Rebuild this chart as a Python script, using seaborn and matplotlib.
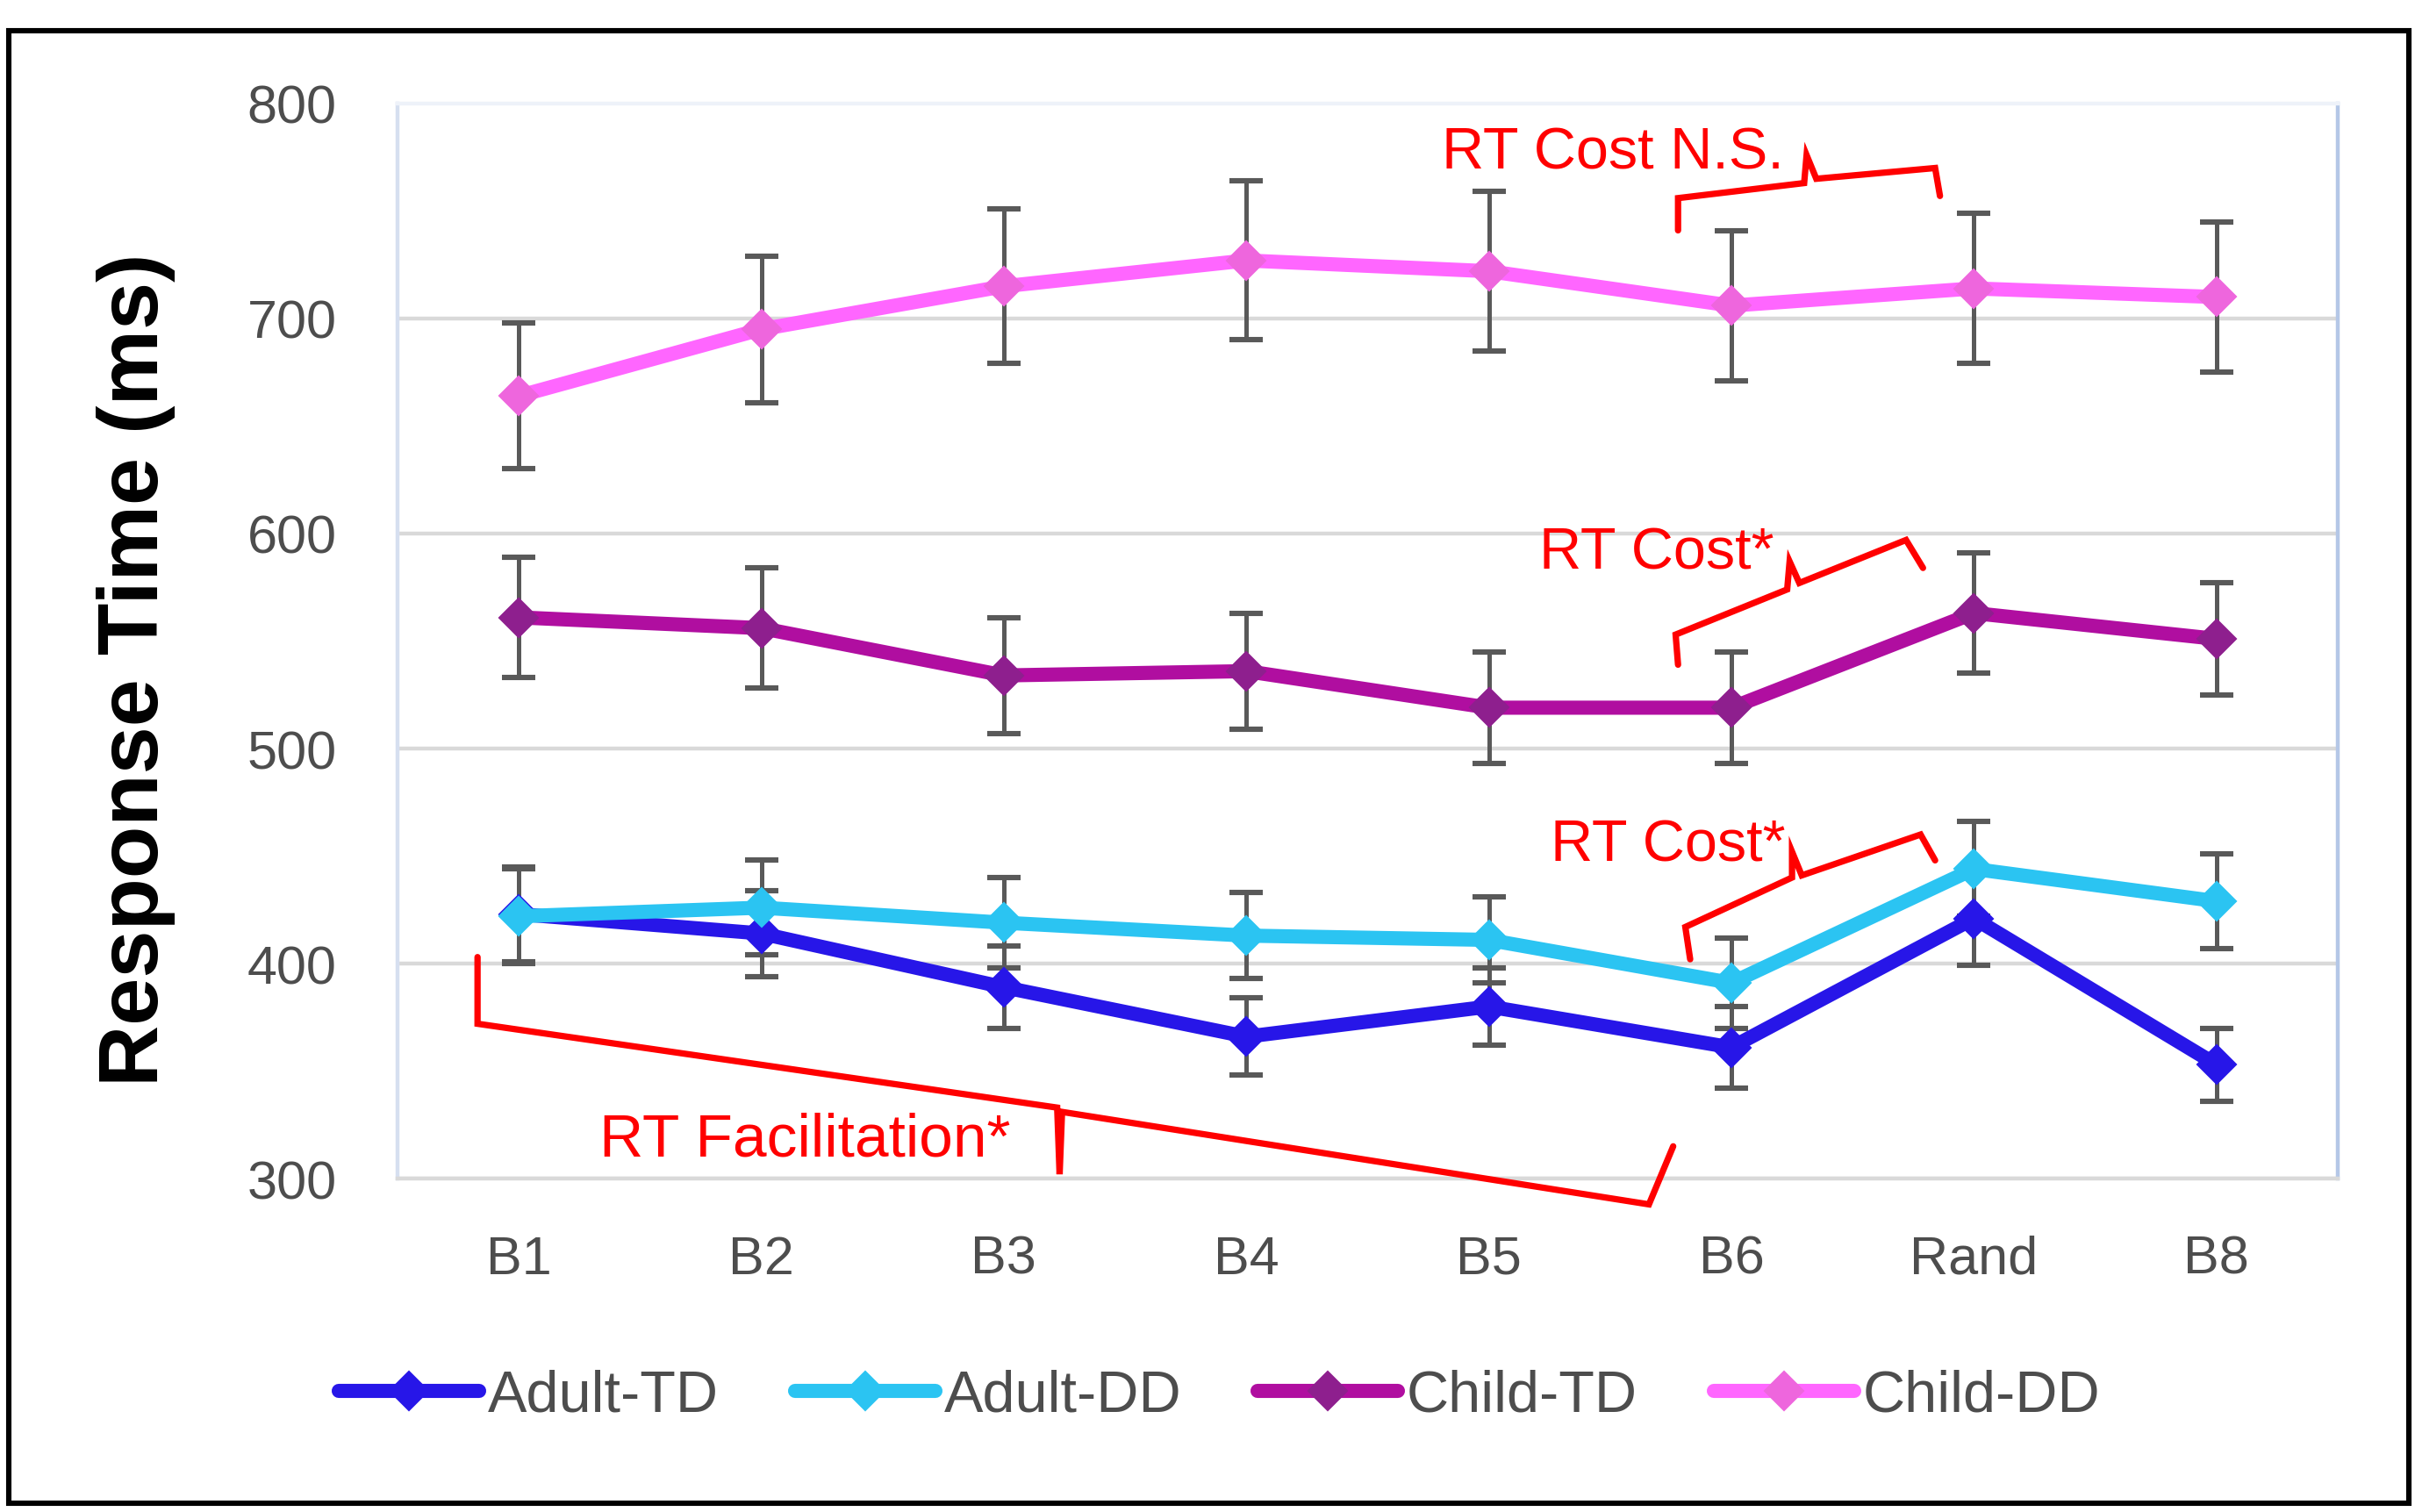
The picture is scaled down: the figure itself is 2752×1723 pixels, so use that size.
import numpy as np
import pandas as pd
import matplotlib.pyplot as plt
import seaborn as sns
from matplotlib.patches import Rectangle

sns.set_style('white')
plt.rcParams['font.family'] = ['Liberation Sans', 'DejaVu Sans']

blocks = ['B1', 'B2', 'B3', 'B4', 'B5', 'B6', 'Rand', 'B8']
groups = ['Adult-TD', 'Adult-DD', 'Child-TD', 'Child-DD']

adult_td = [423, 414, 389, 366, 380, 361, 421, 353]
adult_td_err = [22, 20, 19, 18, 18, 19, 22, 17]
adult_dd = [422, 426, 419, 413, 411, 391, 444, 429]
adult_dd_err = [22, 22, 21, 20, 20, 21, 22, 22]
child_td = [561, 556, 534, 536, 519, 519, 563, 551]
child_td_err = [28, 28, 27, 27, 26, 26, 28, 26]
child_dd = [664, 695, 715, 727, 722, 706, 714, 710]
child_dd_err = [34, 34, 36, 37, 37, 35, 35, 35]

line_colors = ['#2716E8', '#2BC4F2', '#B00EA0', '#FF66FF']
marker_colors = ['#2716E8', '#2BC4F2', '#8E1F8E', '#EE66DD']

# annotation brackets (x in block units, y in ms) and their labels
facil_bracket = [(-0.17, 403), (-0.17, 372), (2.22, 333), (2.23, 302), (2.24, 331), (4.66, 288), (4.76, 315)]
adult_cost_bracket = [(4.83, 402), (4.81, 417), (5.25, 440), (5.25, 452), (5.29, 441), (5.78, 460), (5.84, 448)]
child_cost_bracket = [(4.78, 539), (4.77, 553), (5.23, 574), (5.24, 587), (5.28, 577), (5.72, 597), (5.79, 584)]
ns_bracket = [(4.78, 741), (4.78, 756), (5.30, 763), (5.31, 776), (5.35, 765), (5.84, 770), (5.86, 757)]
annotations = [
    ('RT Facilitation*', 1.18, 318, facil_bracket),
    ('RT Cost*', 4.74, 455, adult_cost_bracket),
    ('RT Cost*', 4.69, 591, child_cost_bracket),
    ('RT Cost N.S.', 4.51, 777, ns_bracket),
]

series = [adult_td, adult_dd, child_td, child_dd]
errors = [adult_td_err, adult_dd_err, child_td_err, child_dd_err]

rows = []
for g, vals, errs in zip(groups, series, errors):
    for i, (b, v, e) in enumerate(zip(blocks, vals, errs)):
        rows.append({'group': g, 'block': b, 'pos': i, 'rt': v, 'se': e})
df = pd.DataFrame(rows)

fig = plt.figure(figsize=(13.76, 8.62), dpi=200)
ax = fig.add_axes([0.1646, 0.2204, 0.8034, 0.7106])

for k, g in enumerate(groups):
    sub = df[df['group'] == g]
    ax.errorbar(sub['pos'], sub['rt'], yerr=sub['se'], fmt='none', ecolor='#595959',
                elinewidth=1.8, capsize=7, capthick=2.2, zorder=2)
for k, g in enumerate(groups):
    sub = df[df['group'] == g]
    sns.lineplot(data=sub, x='pos', y='rt', ax=ax, color=line_colors[k], lw=5.8,
                 marker='D', markersize=11, markerfacecolor=marker_colors[k],
                 markeredgecolor=marker_colors[k], label=g, zorder=3 + k)

for text, tx, ty, pts in annotations:
    bx, by = zip(*pts)
    ax.plot(bx, by, color='#FF0000', lw=2.6, clip_on=False, zorder=10,
            solid_joinstyle='miter')
    fs = 25 if 'Facilitation' in text else 24
    ax.text(tx, ty, text, color='#FF0000', fontsize=fs, ha='center', va='center', zorder=11)

ax.set_xlim(-0.5, len(blocks) - 0.5)
ax.set_ylim(300, 800)
ax.set_xticks(range(len(blocks)))
ax.set_xticklabels(blocks)
ax.set_yticks(range(300, 801, 100))
ax.tick_params(axis='both', length=0, labelsize=22, labelcolor='#4D4D4D')
ax.tick_params(axis='x', pad=23)
ax.tick_params(axis='y', pad=25)
ax.set_xlabel('')
ax.set_ylabel('')
ax.yaxis.grid(True, color='#D9D9D9', lw=1.6)
ax.set_axisbelow(True)
ax.yaxis.get_gridlines()[-1].set_visible(False)

ax.spines['left'].set_color('#D6DFF0')
ax.spines['right'].set_color('#B4C7E7')
ax.spines['top'].set_color('#EEF2F9')
ax.spines['bottom'].set_color('#D9D9D9')
for s in ax.spines.values():
    s.set_linewidth(1.6)

fig.text(0.0563, 0.5574, 'Response Time (ms)', rotation=90, ha='center', va='center',
         fontsize=35, fontweight='bold', color='black')

handles, labels = ax.get_legend_handles_labels()
ax.legend(handles, labels, loc='center', bbox_to_anchor=(0.505, 0.0766),
          bbox_transform=fig.transFigure, ncol=4, frameon=False, fontsize=24,
          labelcolor='#4D4D4D', handlelength=2.4, handletextpad=0.15, columnspacing=1.3)

fig.add_artist(Rectangle((0.0036, 0.0058), 0.9939, 0.9732, transform=fig.transFigure,
                         fill=False, edgecolor='black', lw=2.2))

fig.savefig('out.png', dpi=200)
